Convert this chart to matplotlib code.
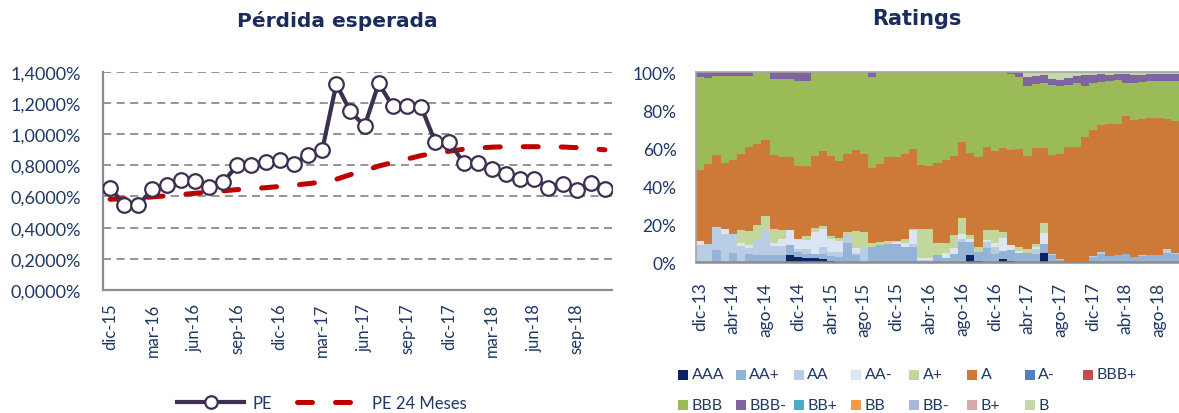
import matplotlib
matplotlib.use('Agg')
import matplotlib.pyplot as plt
from matplotlib.patches import Rectangle
from matplotlib.lines import Line2D
import numpy as np

plt.rcParams['font.family'] = ['Lato', 'DejaVu Sans']

# ── colours ──
NAVY = '#1F3864'
GRID = '#8C8C8C'

# ── Pérdida esperada (monthly, dic-15 .. nov-18) ──
pe = [0.655, 0.548, 0.543, 0.649, 0.672, 0.704, 0.696, 0.659, 0.694, 0.799,
      0.799, 0.820, 0.831, 0.810, 0.866, 0.896, 1.321, 1.145, 1.052, 1.325,
      1.177, 1.181, 1.175, 0.949, 0.949, 0.816, 0.816, 0.773, 0.741, 0.709,
      0.715, 0.655, 0.681, 0.644, 0.687, 0.649]
pe24 = [0.582, 0.585, 0.590, 0.597, 0.604, 0.612, 0.620, 0.628, 0.636, 0.644,
        0.650, 0.656, 0.664, 0.672, 0.682, 0.692, 0.710, 0.740, 0.765, 0.795,
        0.818, 0.840, 0.862, 0.878, 0.890, 0.903, 0.910, 0.916, 0.919, 0.919,
        0.919, 0.919, 0.917, 0.913, 0.907, 0.899]
pe_ticklabels = ['dic-15', 'mar-16', 'jun-16', 'sep-16', 'dic-16', 'mar-17',
                 'jun-17', 'sep-17', 'dic-17', 'mar-18', 'jun-18', 'sep-18']

# ── Ratings (% of portfolio, monthly, dic-13 .. oct-18) ──
r_aaa = [0, 0, 0, 0, 0, 0, 0, 0, 0, 0,
         0, 3.9, 2.6, 2.1, 2.0, 1.6, 0.7, 0, 0, 0,
         0, 0, 0, 0, 0, 0, 0, 0, 0, 0,
         0, 0, 0, 3.7, 0.7, 0, 0, 1.6, 0.3, 0,
         0, 0, 4.8, 0, 0, 0, 0, 0, 0, 0,
         0, 0, 0, 0, 0, 0, 0, 0, 0]
r_aap = [0, 0, 6.2, 0, 4.8, 0, 4.0, 3.5, 3.5, 3.9,
         3.9, 4.8, 2.6, 2.1, 2.3, 2.6, 2.6, 2.8, 10.2, 3.5,
         0, 8.1, 9.0, 9.3, 9.3, 7.9, 7.9, 0, 0, 3.5,
         2.0, 4.4, 10.4, 7.0, 4.4, 7.6, 4.4, 4.0, 5.8, 4.6,
         4.6, 4.0, 4.8, 3.5, 1.2, 0, 0, 0, 2.6, 4.0,
         3.3, 3.7, 4.2, 2.8, 3.3, 3.5, 3.5, 4.6, 4.2]
r_aa = [8.8, 9.7, 12.0, 15.0, 9.7, 8.3, 3.5, 7.9, 13.2, 4.4,
        4.4, 0, 1.8, 2.6, 0, 3.5, 1.8, 2.3, 3.9, 1.5,
        7.9, 0, 0, 0, 0, 0, 1.8, 0.9, 0.9, 0,
        0, 0, 1.8, 0, 0, 3.0, 3.5, 0, 0, 0,
        0, 3.0, 0, 0.5, 0.5, 0, 0, 0, 0.8, 1.2,
        0, 0, 0, 0, 0.4, 0, 0, 2.3, 0.5]
r_aam = [2.1, 0, 0, 2.6, 0, 1.8, 1.2, 0, 0, 1.8,
         4.0, 7.9, 5.3, 4.8, 11.4, 9.7, 7.0, 5.8, 0, 2.5,
         0, 0, 0, 0, 1.0, 2.1, 7.0, 1.2, 1.2, 0,
         2.5, 3.2, 2.6, 1.2, 0, 0.9, 2.1, 7.0, 2.6, 1.4,
         0, 0.9, 5.8, 0, 0, 0, 0, 0, 0, 0,
         0, 0, 0, 0, 0, 0, 0, 0, 0]
r_ap = [0, 0, 0, 0, 0, 7.0, 7.6, 7.9, 7.4, 7.2,
        4.4, 0, 0, 2.3, 2.3, 1.8, 1.8, 1.6, 1.8, 8.8,
        7.9, 1.8, 1.5, 1.8, 0.5, 2.1, 0.9, 15.5, 15.3, 6.5,
        5.7, 6.5, 8.5, 2.3, 3.0, 5.3, 6.7, 3.2, 0, 2.1,
        2.3, 1.4, 5.3, 0, 0, 0, 0, 0, 0, 0,
        0, 0, 0, 0, 0, 0, 0, 0, 0]
r_a = [37.7, 41.7, 38.3, 34.7, 39.4, 39.9, 44.4, 42.8, 40.3, 39.2,
       38.6, 38.7, 38.1, 36.5, 37.8, 39.4, 41.9, 40.5, 40.8, 42.8,
       41.1, 39.6, 41.1, 44.3, 44.6, 44.8, 41.9, 33.5, 33.3, 41.9,
       43.7, 41.5, 40.1, 43.0, 47.0, 43.9, 41.9, 44.4, 50.4, 51.4,
       48.7, 50.6, 39.2, 52.5, 55.2, 60.7, 60.7, 66.0, 66.3, 67.0,
       69.1, 68.9, 72.6, 72.2, 71.8, 72.4, 72.4, 68.3, 69.4]
r_am = [0] * 59
r_bbbp = [0] * 59
r_bbb = [48.8, 45.6, 41.2, 45.6, 44.0, 40.9, 37.2, 37.9, 35.6, 39.6,
         40.8, 40.8, 45.1, 45.1, 44.2, 41.4, 44.2, 47.0, 43.3, 40.9,
         43.1, 48.0, 48.4, 44.6, 44.6, 43.1, 40.5, 48.9, 49.3, 48.1,
         46.1, 44.4, 36.6, 42.8, 44.9, 39.3, 41.4, 39.8, 40.0, 38.1,
         37.0, 33.6, 34.1, 36.5, 35.7, 32.3, 33.3, 26.6, 24.3, 22.5,
         22.9, 23.1, 17.2, 19.0, 19.2, 19.4, 19.4, 20.1, 21.2]
r_bbbm = [2.6, 3.0, 2.3, 2.1, 2.1, 2.1, 2.1, 0, 0, 3.9,
          3.9, 3.9, 4.5, 4.5, 0, 0, 0, 0, 0, 0,
          0, 2.5, 0, 0, 0, 0, 0, 0, 0, 0,
          0, 0, 0, 0, 0, 0, 0, 0, 0.9, 2.4,
          4.9, 4.4, 4.2, 3.1, 3.2, 4.0, 3.9, 5.6, 4.2, 4.1,
          2.9, 3.2, 5.1, 4.4, 3.7, 3.5, 3.5, 3.5, 3.5]
r_bbp = [0] * 59
r_bb = [0] * 59
r_bbm = [0] * 59
r_bp = [0] * 59
r_b = [0] * 40 + [2.5, 2.1, 1.8, 3.9, 4.2, 3.0, 2.1, 1.8, 1.8, 1.2,
                  1.8, 1.1, 0.9, 1.6, 1.6, 1.2, 1.2, 1.2, 1.2]
rating_names = ['AAA', 'AA+', 'AA', 'AA-', 'A+', 'A', 'A-', 'BBB+',
                'BBB', 'BBB-', 'BB+', 'BB', 'BB-', 'B+', 'B']
rating_ticklabels = ['dic-13', 'abr-14', 'ago-14', 'dic-14', 'abr-15', 'ago-15',
                     'dic-15', 'abr-16', 'ago-16', 'dic-16', 'abr-17', 'ago-17',
                     'dic-17', 'abr-18', 'ago-18']

rating_series = [r_aaa, r_aap, r_aa, r_aam, r_ap, r_a, r_am, r_bbbp,
                 r_bbb, r_bbbm, r_bbp, r_bb, r_bbm, r_bp, r_b]
rating_colors = ['#0B2563', '#95B3D7', '#B9CDE5', '#DCE6F2', '#C3D69B',
                 '#CD7A38', '#4F81BD', '#C0504D', '#9BBB59', '#8064A2',
                 '#4BACC6', '#F79646', '#A9B8D8', '#DAA8A7', '#C5D6A8']

W, H = 1179, 414
fig = plt.figure(figsize=(W / 100, H / 100), dpi=100)
fig.patch.set_facecolor('white')

def fx(px):
    return px / W

def fy(py):
    return 1 - py / H

# ══════════════ left: Pérdida esperada ══════════════
ax1 = fig.add_axes([fx(103), fy(291), fx(612 - 103), (291 - 72.7) / H])
x1 = np.arange(len(pe))
ax1.plot(x1, pe24, color='#C00000', lw=3.6, dashes=(3.0, 4.6),
         dash_capstyle='round', label='PE 24 Meses', zorder=3)
ax1.plot(x1, pe, color='#3D2F50', lw=3.0, marker='o', ms=10.5,
         mfc='white', mec='#3D2F50', mew=1.6, label='PE', zorder=4)
ax1.set_xlim(-0.5, len(pe) - 0.5)
ax1.set_ylim(0, 1.4)
ax1.set_yticks(np.arange(0, 1.41, 0.2))
ax1.set_yticklabels([f'{v:.4f}%'.replace('.', ',') for v in np.arange(0, 1.41, 0.2)])
ax1.set_xticks(np.arange(0, len(pe), 3))
ax1.set_xticklabels(pe_ticklabels, rotation=90)
for yv in np.arange(0.2, 1.41, 0.2):
    ax1.axhline(yv, color=GRID, lw=1.3, dashes=(4.5, 3), zorder=1)
for s in ['top', 'right']:
    ax1.spines[s].set_visible(False)
for s in ['left', 'bottom']:
    ax1.spines[s].set_color(GRID)
    ax1.spines[s].set_linewidth(1.6)
ax1.tick_params(axis='both', length=0, colors=NAVY)
ax1.tick_params(axis='y', labelsize=13, pad=16)
ax1.tick_params(axis='x', labelsize=12, pad=9)

fig.text(fx(337), fy(21), 'Pérdida esperada', ha='center', va='center',
         fontsize=14.5, fontweight='bold', color='#1A2B5C', family='DejaVu Sans')

h_pe = Line2D([], [], color='#3D2F50', lw=3.0, marker='o', ms=9,
              mfc='white', mec='#3D2F50', mew=1.6)
h_pe24 = Line2D([], [], color='#C00000', lw=3.6, dashes=(3.0, 4.6),
                dash_capstyle='round')
leg = fig.legend([h_pe, h_pe24], ['PE', 'PE 24 Meses'], loc='center',
                 bbox_to_anchor=(fx(322), fy(404)), ncol=2, frameon=False,
                 fontsize=12, handlelength=4.0, columnspacing=1.5,
                 handletextpad=0.5, numpoints=1)
for t in leg.get_texts():
    t.set_color(NAVY)

# ══════════════ right: Ratings ══════════════
ax2 = fig.add_axes([fx(696), fy(263), fx(1179 - 696), (263 - 73) / H])
n = len(r_a)
x2 = np.arange(n)
bottom = np.zeros(n)
for vals, col, name in zip(rating_series, rating_colors, rating_names):
    vals = np.array(vals, dtype=float)
    ax2.bar(x2, vals, width=1.0, bottom=bottom, color=col, linewidth=0,
            label=name, zorder=2)
    bottom += vals
ax2.set_xlim(-0.5, n - 0.5)
ax2.set_ylim(0, 100)
ax2.set_yticks(np.arange(0, 101, 20))
ax2.set_yticklabels([f'{v}%' for v in range(0, 101, 20)])
ax2.set_xticks(np.arange(0, n, 4))
ax2.set_xticklabels(rating_ticklabels, rotation=90)
ax2.spines['right'].set_visible(False)
for s in ['left', 'top']:
    ax2.spines[s].set_color('#A6A6A6')
    ax2.spines[s].set_linewidth(1.2)
ax2.spines['bottom'].set_color(GRID)
ax2.spines['bottom'].set_linewidth(1.8)
ax2.tick_params(axis='both', length=0, colors=NAVY)
ax2.tick_params(axis='y', labelsize=12.5, pad=14)
ax2.tick_params(axis='x', labelsize=12.5, pad=14)

fig.text(fx(917), fy(19), 'Ratings', ha='center', va='center',
         fontsize=15, fontweight='bold', color='#1A2B5C', family='DejaVu Sans')

# legend: two rows, 8 + 7 entries on a fixed grid
for i, (name, col) in enumerate(zip(rating_names, rating_colors)):
    row, c = divmod(i, 8)
    x0 = 678 + 57.8 * c
    yc = 375.5 + 30.5 * row
    fig.add_artist(Rectangle((fx(x0), fy(yc + 5)), fx(10), 10 / H,
                             transform=fig.transFigure, facecolor=col,
                             edgecolor='none'))
    fig.text(fx(x0 + 13.5), fy(yc), name, ha='left', va='center',
             fontsize=11.5, color=NAVY)

fig.savefig('out.png', dpi=100, facecolor='white')
